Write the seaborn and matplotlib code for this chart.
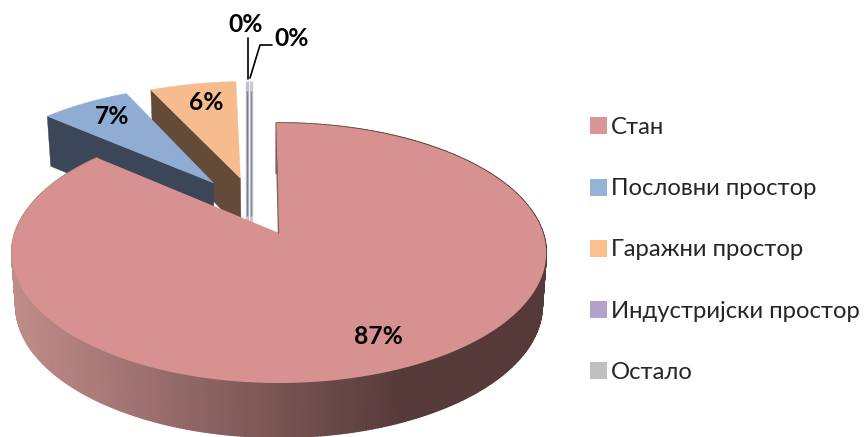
import numpy as np
import matplotlib
matplotlib.use("Agg")
import matplotlib.pyplot as plt
from matplotlib.patches import Patch
import seaborn as sns

# Shares (labels are rounded)
categories = ["Стан", "Пословни простор", "Гаражни простор", "Индустријски простор", "Остало"]
shares = [86.5, 6.6, 6.4, 0.25, 0.25]
labels = ["87%", "7%", "6%", "0%", "0%"]

# Styles
legend_colors = ["#d99694", "#95b3d7", "#fac090", "#b3a2c7", "#bfbfbf"]
top_colors = ["#d79190", "#8fadd3", "#f6bc8d", "#c3c0d0", "#c9c9d0"]
wall_colors = ["#563a39", "#3b4658", "#644a38", "#7f7b92", "#8a8a96"]
explode = [0.21, 0.29, 0.28, 0.28, 0.28]
nudge_x = [0, 0, 0, -0.012, -0.012]
ROTATION = -0.012

sns.set_theme(style="white")
plt.rcParams["font.family"] = ["Lato", "Noto Sans", "DejaVu Sans"]

# Perspective of the pie, in picture pixels
APEX_X, APEX_Y = 279, 233
A, B, K = 264, 126.9, 0.154


def project(x, y, low=False):
    w = 1 + K * y
    sx = A * x / w
    sy = B * y / w
    if low:
        return APEX_X + 0.985 * sx, APEX_Y - sy + 52 / w ** 0.25
    return APEX_X + sx, APEX_Y - sy


fig = plt.figure(figsize=(8.64, 4.37), dpi=100)
ax = fig.add_axes([0, 0, 1, 1])
ax.set_xlim(0, 864)
ax.set_ylim(437, 0)
ax.axis("off")

# Slice angles, clockwise from the top
edges = np.cumsum([0] + shares) / sum(shares) * 2 * np.pi + ROTATION
mids = (edges[:-1] + edges[1:]) / 2
main_off = explode[0] * np.array([np.sin(mids[0]), np.cos(mids[0])])


def slice_geometry(i):
    off = explode[i] * np.array([np.sin(mids[i]), np.cos(mids[i])]) - main_off
    off[0] += nudge_x[i]
    t = np.linspace(edges[i], edges[i + 1], 500 if i == 0 else 60)
    return off, t, off[0] + np.sin(t), off[1] + np.cos(t)


# Back to front: thin slices, garage, office, flat
for i in [4, 3]:
    off, t, xs, ys = slice_geometry(i)
    x0, y0 = project(off[0], off[1], low=True)
    x1, y1 = project(xs[30], ys[30])
    ax.plot([x1 - 0.5, x1 - 0.5], [y1, y0], color=top_colors[i], lw=2.4, solid_capstyle="butt", zorder=0.5)
    ax.plot([x1 - 0.5, x1 - 0.5], [y1 + 10, y0 - 12], color=wall_colors[i], lw=1.0,
            solid_capstyle="butt", zorder=0.6)

for i in [2, 1]:
    off, t, xs, ys = slice_geometry(i)
    # radial side wall seen on the left edge
    x0, y0 = project(off[0], off[1])
    x1, y1 = project(xs[0], ys[0])
    x2, y2 = project(off[0], off[1], low=True)
    x3, y3 = project(xs[0], ys[0], low=True)
    ax.fill([x0, x1, x3, x2], [y0, y1, y3, y2], color=wall_colors[i], lw=0.3)
    px, py = project(xs, ys)
    ax.fill(np.r_[x0, px], np.r_[y0, py], color=top_colors[i], lw=0.3)

# Flat slice: shaded outer wall, light on the left and dark to the right
off, t, xs, ys = slice_geometry(0)
tx, ty = project(xs, ys)
bx, by = project(xs, ys, low=True)
shade = sns.blend_palette(["#c08c8a", "#563a39"], 100)
for j in range(len(t) - 1):
    mid_x = (tx[j] + tx[j + 1]) / 2
    c = shade[int(np.clip((mid_x - 11) / (405 - 11), 0, 0.99) * 100)]
    ax.fill([tx[j], tx[j + 1], bx[j + 1], bx[j]], [ty[j], ty[j + 1], by[j + 1], by[j]],
            facecolor=c, edgecolor=c, lw=1.2)

ax.fill(np.r_[APEX_X, tx], np.r_[APEX_Y, ty], color=top_colors[0], lw=0)
# edge wall at the top of the flat slice
ax.plot([tx[0] + 0.5, APEX_X - 0.5], [160, APEX_Y], color="#7a6464", lw=1)

# Leader lines for the two empty slices
ax.plot([248, 248], [38, 79], color="black", lw=1.2)
ax.plot([272, 260, 250], [45, 45, 78], color="black", lw=1.2)

label_pos = [(378, 337), (112, 116), (206, 103), (246, 24), (292, 38)]
for text, (lx, ly) in zip(labels, label_pos):
    ax.text(lx, ly, text, ha="center", va="center", fontsize=17.7, fontweight="bold", color="black")

handles = [Patch(facecolor=c, edgecolor="none") for c in legend_colors]
ax.legend(handles, categories, loc="center left", bbox_to_anchor=(590 / 864, 1 - 250 / 437),
          frameon=False, fontsize=17.2, handlelength=0.72, handleheight=0.72, handletextpad=0.15,
          labelspacing=1.68, borderpad=0, borderaxespad=0)

plt.savefig("out.png", dpi=100)
